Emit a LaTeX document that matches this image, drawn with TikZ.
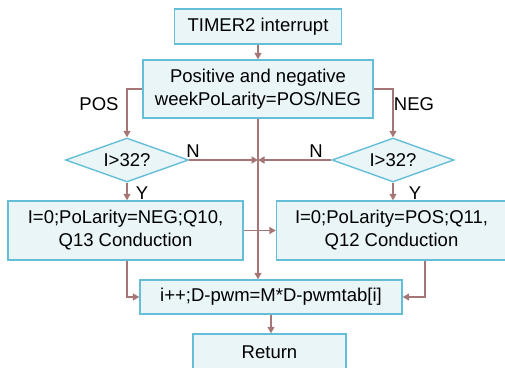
\documentclass[tikz,border=0pt]{standalone}
\usepackage{fontspec}
\setmainfont{Liberation Sans}
\usepackage{xcolor}
\definecolor{flowedge}{HTML}{64BED8}
\definecolor{flowfill}{HTML}{EAF5F8}
\definecolor{flowline}{HTML}{A47676}
\usetikzlibrary{positioning,arrows.meta,shapes.geometric}
\tikzset{
  fbox/.style ={rectangle, draw=flowedge, fill=flowfill, line width=1.4pt,
                align=center, inner sep=2pt, font=\fontsize{18.5}{23}\selectfont},
  fdia/.style ={diamond, aspect=2.8, draw=flowedge, fill=flowfill, line width=1.4pt,
                inner sep=0pt, font=\fontsize{18.5}{23}\selectfont},
  arr/.style  ={-{Triangle[length=6.5pt,width=7pt]}, draw=flowline, line width=1.5pt},
  lbl/.style  ={font=\fontsize{18.5}{23}\selectfont, inner sep=0pt},
}

\begin{document}
\begin{tikzpicture}[x=1pt,y=-1pt]
  \useasboundingbox (0,0) rectangle (505,367);
  % boxes
  \node[fbox, minimum width=167pt, minimum height=35pt] (timer) at (258,26.5) {TIMER2 interrupt};
  \node[fbox, minimum width=230pt, minimum height=58pt] (pol) at (258,89) {Positive and negative\\weekPoLarity=POS/NEG};
  \node[fdia, minimum width=123pt, minimum height=44pt] (dl) at (127,160) {I>32?};
  \node[fdia, minimum width=122pt, minimum height=44pt] (dr) at (393,160) {I>32?};
  \node[fbox, minimum width=235pt, minimum height=59pt] (setn) at (125.5,230.5) {I=0;PoLarity=NEG;Q10,\\Q13 Conduction};
  \node[fbox, minimum width=230pt, minimum height=59pt] (setp) at (391.5,230.5) {I=0;PoLarity=POS;Q11,\\Q12 Conduction};
  \node[fbox, minimum width=262pt, minimum height=34pt] (upd) at (271,297) {i++;D-pwm=M*D-pwmtab[i]};
  \node[fbox, minimum width=153pt, minimum height=36pt] (ret) at (269.5,352) {Return};
  \coordinate (j) at (pol.south |- dl.east);
  % connectors
  \draw[arr] (timer) -- (pol);
  \draw[arr] (pol.west) -| (dl.north);
  \draw[arr] (pol.east) -| (dr.north);
  \draw[arr] (pol.south) -- (pol.south |- upd.north);
  \draw[arr] (dl.east) -- (j);
  \draw[arr] (dr.west) -- (j);
  \draw[arr] (dl.south) -- (dl.south |- setn.north);
  \draw[arr] (dr.south) -- (dr.south |- setp.north);
  \draw[arr] (setn.east) -- (setp.west);
  \draw[arr] (dl.south |- setn.south) |- (upd.west);
  \draw[arr] ([xshift=33.5pt]setp.south) |- (upd.east);
  \draw[arr] (upd.south) -- (upd.south |- ret.north);
  % labels
  \node[lbl] (pos) at (99,104) {POS};
  \node[lbl] (neg) at (414,104) {NEG};
  \node[lbl] (nl) at (193,151) {N};
  \node[lbl] (nr) at (316,151) {N};
  \node[lbl] (yl) at (142,193) {Y};
  \node[lbl] (yr) at (415,193) {Y};
\end{tikzpicture}
\end{document}
